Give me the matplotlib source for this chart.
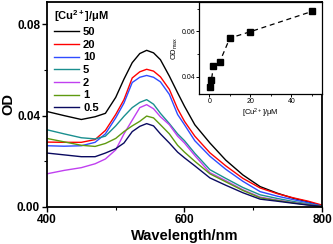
import matplotlib
matplotlib.use("Agg")
import matplotlib.pyplot as plt
from matplotlib.ticker import MultipleLocator

plt.rcParams["font.family"] = ["Liberation Sans", "DejaVu Sans"]
plt.rcParams["mathtext.default"] = "regular"

# wavelength grid (nm)
wavelength = [400, 425, 450, 470, 485, 500, 512, 524, 535, 545, 555, 565,
              578, 590, 600, 615, 637, 660, 685, 710, 735, 758, 780, 800]

od_50 = [0.0418, 0.0400, 0.0383, 0.0395, 0.0410, 0.0480, 0.0560, 0.0632,
         0.0672, 0.0686, 0.0675, 0.0645, 0.0573, 0.0500, 0.0441, 0.0360,
         0.0280, 0.0205, 0.0140, 0.0089, 0.0060, 0.0038, 0.0022, 0.0005]
od_20 = [0.0284, 0.0283, 0.0283, 0.0295, 0.0335, 0.0405, 0.0470, 0.0565,
         0.0592, 0.0603, 0.0595, 0.0570, 0.0515, 0.0430, 0.0375, 0.0310,
         0.0237, 0.0180, 0.0125, 0.0083, 0.0058, 0.0040, 0.0025, 0.0008]
od_10 = [0.0268, 0.0266, 0.0268, 0.0283, 0.0320, 0.0390, 0.0455, 0.0545,
         0.0568, 0.0576, 0.0568, 0.0548, 0.0493, 0.0405, 0.0360, 0.0290,
         0.0222, 0.0165, 0.0112, 0.0067, 0.0047, 0.0032, 0.0018, 0.0004]
od_5 = [0.0338, 0.0320, 0.0303, 0.0298, 0.0310, 0.0355, 0.0397, 0.0435,
        0.0458, 0.0470, 0.0450, 0.0410, 0.0365, 0.0320, 0.0290, 0.0235,
        0.0163, 0.0125, 0.0085, 0.0053, 0.0037, 0.0024, 0.0013, 0.0003]
od_2 = [0.0145, 0.0160, 0.0172, 0.0189, 0.0210, 0.0250, 0.0320, 0.0380,
        0.0435, 0.0448, 0.0430, 0.0395, 0.0360, 0.0310, 0.0280, 0.0225,
        0.0150, 0.0115, 0.0075, 0.0043, 0.0030, 0.0019, 0.0010, 0.0002]
od_1 = [0.0300, 0.0285, 0.0270, 0.0265, 0.0278, 0.0300, 0.0330, 0.0355,
        0.0375, 0.0398, 0.0390, 0.0360, 0.0320, 0.0270, 0.0240, 0.0200,
        0.0145, 0.0110, 0.0072, 0.0040, 0.0028, 0.0018, 0.0009, 0.0002]
od_05 = [0.0236, 0.0228, 0.0220, 0.0220, 0.0236, 0.0255, 0.0280, 0.0330,
         0.0353, 0.0365, 0.0355, 0.0320, 0.0280, 0.0240, 0.0215, 0.0180,
         0.0127, 0.0095, 0.0062, 0.0034, 0.0025, 0.0016, 0.0008, 0.0002]

series_labels = ["50", "20", "10", "5", "2", "1", "0.5"]
series_colors = ["#000000", "#ff0000", "#2f4cff", "#1a8f8f", "#c040f0", "#5f9a10", "#0a0a60"]

# inset: peak OD vs copper concentration
cu_conc = [0.5, 1, 2, 5, 10, 20, 50]
od_max = [0.0356, 0.0387, 0.0446, 0.0465, 0.0571, 0.0599, 0.0688]

fig = plt.figure(figsize=(3.33, 2.44), dpi=100)
ax = fig.add_axes([0.141, 0.152, 0.826, 0.840])

all_series = [od_50, od_20, od_10, od_5, od_2, od_1, od_05]
for vals, lab, col in zip(all_series, series_labels, series_colors):
    ax.plot(wavelength, vals, color=col, lw=1.0, label=lab)

ax.set_xlim(400, 800)
ax.set_ylim(0, 0.0898)
ax.xaxis.set_major_locator(MultipleLocator(200))
ax.xaxis.set_minor_locator(MultipleLocator(100))
ax.yaxis.set_major_locator(MultipleLocator(0.04))
ax.yaxis.set_minor_locator(MultipleLocator(0.02))
ax.yaxis.set_major_formatter(plt.FuncFormatter(lambda v, p: f"{v:.2f}"))
ax.tick_params(which="major", direction="out", length=3.5, width=1, labelsize=8.5, pad=1.5)
ax.tick_params(which="minor", direction="out", length=2, width=0.8)
for t in ax.get_xticklabels() + ax.get_yticklabels():
    t.set_fontweight("bold")
for s in ax.spines.values():
    s.set_linewidth(1.3)
ax.set_xlabel("Wavelength/nm", fontsize=10.5, fontweight="bold", labelpad=2)
ax.set_ylabel("OD", fontsize=10.5, fontweight="bold", labelpad=1)

leg = ax.legend(loc="upper left", bbox_to_anchor=(0.0, 1.0), frameon=False,
                title="[Cu$^{2+}$]/\u03bcM", prop={"size": 8, "weight": "bold"},
                handlelength=2.3, handletextpad=0.35, labelspacing=0.24,
                borderaxespad=0.4, borderpad=0.2)
leg.get_title().set_fontsize(8)
leg.get_title().set_fontweight("bold")
leg._legend_box.align = "left"

# inset
ins = fig.add_axes([0.598, 0.615, 0.369, 0.377])
ins.plot(cu_conc, od_max, color="black", ls=(0, (4, 3)), lw=0.9,
         marker="s", markersize=4, markerfacecolor="black")
ins.set_xlim(-5, 55)
ins.set_ylim(0.0325, 0.073)
ins.xaxis.set_major_locator(MultipleLocator(20))
ins.xaxis.set_minor_locator(MultipleLocator(10))
ins.yaxis.set_major_locator(MultipleLocator(0.02))
ins.yaxis.set_minor_locator(MultipleLocator(0.01))
ins.yaxis.set_major_formatter(plt.FuncFormatter(lambda v, p: f"{v:.2f}"))
ins.tick_params(which="major", direction="out", length=2, width=0.7, labelsize=5, pad=1)
ins.tick_params(which="minor", direction="out", length=1.2, width=0.6)
for s in ins.spines.values():
    s.set_linewidth(0.9)
ins.set_xlabel("[Cu$^{2+}$]/\u03bcM", fontsize=5.5, labelpad=1.5)
ins.set_ylabel("OD$_{max}$", fontsize=5.5, labelpad=1)

fig.savefig("out.png", dpi=100)
